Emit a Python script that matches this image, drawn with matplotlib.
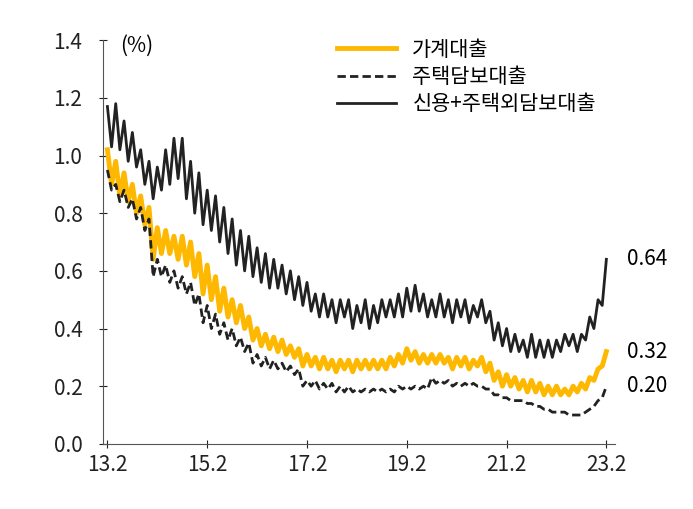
import matplotlib
matplotlib.use("Agg")
import matplotlib.pyplot as plt

plt.rcParams["font.family"] = "Noto Sans CJK KR"

tick_labels = ["13.2", "15.2", "17.2", "19.2", "21.2", "23.2"]
tick_pos = [0, 24, 48, 72, 96, 120]

other = [1.17,1.03,1.18,1.02,1.12,0.98,1.08,0.96,1.02,0.90,0.98,
 0.85,0.96,0.88,1.02,0.90,1.06,0.92,1.06,0.85,0.98,0.80,0.94,
 0.76,0.88,0.74,0.86,0.70,0.82,0.66,0.78,0.62,0.74,0.60,0.72,
 0.58,0.68,0.56,0.66,0.54,0.64,0.54,0.62,0.52,0.60,0.50,0.58,
 0.48,0.56,0.46,0.52,0.44,0.52,0.44,0.50,0.42,0.50,0.44,0.50,
 0.40,0.48,0.42,0.50,0.40,0.48,0.42,0.50,0.44,0.50,0.44,0.52,
 0.44,0.54,0.46,0.55,0.46,0.52,0.44,0.50,0.44,0.52,0.44,0.50,
 0.42,0.50,0.44,0.50,0.42,0.48,0.44,0.50,0.42,0.46,0.36,0.42,
 0.34,0.40,0.32,0.38,0.32,0.36,0.30,0.38,0.30,0.36,0.30,0.36,
 0.30,0.36,0.32,0.38,0.34,0.38,0.32,0.38,0.36,0.44,0.40,0.50,
 0.48,0.64]
household = [1.02,0.90,0.98,0.86,0.94,0.84,0.90,0.80,0.86,0.76,0.82,
 0.64,0.75,0.66,0.74,0.66,0.72,0.64,0.72,0.62,0.70,0.58,0.66,
 0.52,0.62,0.50,0.58,0.46,0.54,0.44,0.50,0.42,0.48,0.40,0.44,
 0.36,0.40,0.34,0.38,0.33,0.37,0.32,0.36,0.31,0.34,0.30,0.33,
 0.27,0.31,0.27,0.30,0.26,0.30,0.26,0.29,0.25,0.29,0.26,0.29,
 0.25,0.29,0.26,0.29,0.26,0.29,0.26,0.29,0.26,0.30,0.27,0.31,
 0.28,0.33,0.29,0.32,0.28,0.31,0.28,0.31,0.28,0.31,0.28,0.30,
 0.26,0.30,0.27,0.30,0.26,0.29,0.27,0.30,0.25,0.28,0.22,0.25,
 0.20,0.24,0.20,0.23,0.19,0.22,0.18,0.22,0.18,0.21,0.17,0.20,
 0.17,0.20,0.17,0.19,0.17,0.20,0.18,0.21,0.19,0.23,0.22,0.26,
 0.27,0.32]
mortgage = [0.95,0.88,0.90,0.84,0.88,0.82,0.85,0.78,0.82,0.74,0.78,
 0.58,0.64,0.58,0.62,0.56,0.60,0.54,0.58,0.52,0.56,0.48,0.52,
 0.42,0.48,0.40,0.45,0.38,0.42,0.36,0.40,0.34,0.37,0.32,0.35,
 0.28,0.31,0.27,0.30,0.26,0.29,0.26,0.28,0.25,0.27,0.24,0.26,
 0.20,0.22,0.20,0.22,0.19,0.21,0.19,0.21,0.18,0.20,0.18,0.20,
 0.18,0.19,0.18,0.19,0.18,0.19,0.18,0.19,0.18,0.19,0.18,0.20,
 0.19,0.20,0.19,0.20,0.19,0.20,0.19,0.23,0.21,0.22,0.21,0.22,
 0.20,0.21,0.20,0.21,0.20,0.21,0.20,0.20,0.19,0.19,0.17,0.17,
 0.16,0.16,0.15,0.15,0.15,0.15,0.14,0.14,0.13,0.13,0.12,0.12,
 0.11,0.11,0.11,0.11,0.10,0.10,0.10,0.10,0.11,0.12,0.13,0.15,
 0.16,0.20]

x = list(range(len(household)))

fig = plt.figure(figsize=(6.93, 5.09), dpi=100)
ax = fig.add_axes([0.149, 0.128, 0.738, 0.793])
ax.plot(x, household, color="#FFB800", lw=3.5, label="가계대출")
ax.plot(x, mortgage, color="#222222", lw=2, ls=(0, (3, 1.5)), label="주택담보대출")
ax.plot(x, other, color="#222222", lw=2, label="신용+주택외담보대출")

yt = [0, 0.2, 0.4, 0.6, 0.8, 1.0, 1.2, 1.4]
ax.set_ylim(0, 1.4)
ax.set_xlim(-1, 122)
ax.set_yticks(yt)
ax.set_yticklabels([f"{v:.1f}" for v in yt])
ax.set_xticks(tick_pos)
ax.set_xticklabels(tick_labels)
ax.tick_params(labelsize=15, colors="#222222", length=6, direction="inout")
ax.tick_params(axis="y", pad=12)
ax.tick_params(axis="x", pad=4)
for s in ["top", "right"]:
    ax.spines[s].set_visible(False)
ax.spines["left"].set_color("#555555")
ax.spines["bottom"].set_color("#555555")

ax.text(3, 1.38, "(%)", fontsize=15, va="center")
for v in [other[-1], household[-1], mortgage[-1]]:
    ax.text(125, v, f"{v:.2f}", fontsize=15, va="center", clip_on=False)

ax.legend(loc="upper right", bbox_to_anchor=(1.0, 1.05), frameon=False,
          fontsize=15, handlelength=2.8, labelspacing=0.25)
fig.savefig("out.png", dpi=100)
